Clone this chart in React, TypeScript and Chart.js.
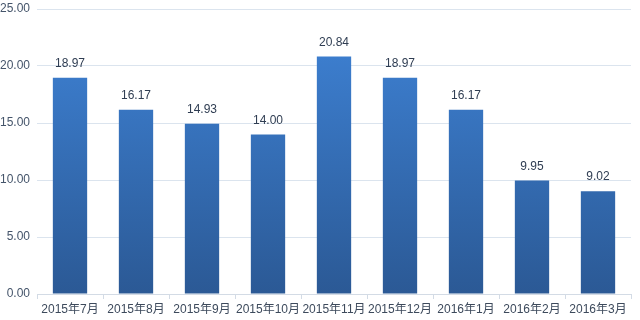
import React, { useEffect, useRef } from "react";
import { Chart, registerables } from "chart.js";

Chart.register(...registerables);

const categories = ["2015年7月", "2015年8月", "2015年9月", "2015年10月", "2015年11月", "2015年12月", "2016年1月", "2016年2月", "2016年3月"];
const values = [18.97, 16.17, 14.93, 14.0, 20.84, 18.97, 16.17, 9.95, 9.02];
const yMin = 0;
const yMax = 25;
const yStep = 5;

const FONT = "'Liberation Sans', 'Noto Sans CJK SC', sans-serif";

const valueLabels = {
  id: "valueLabels",
  afterDatasetsDraw(chart: any) {
    const ctx = chart.ctx;
    const meta = chart.getDatasetMeta(0);
    ctx.save();
    ctx.font = `12px ${FONT}`;
    ctx.fillStyle = "#2f3d52";
    ctx.textAlign = "center";
    ctx.textBaseline = "middle";
    meta.data.forEach((bar: any, i: number) => {
      ctx.fillText(values[i].toFixed(2), bar.x, bar.y - 14);
    });
    ctx.restore();
  },
};

export default function App() {
  const ref = useRef<HTMLCanvasElement>(null);
  useEffect(() => {
    document.body.style.margin = "0";
    const canvas = ref.current!;
    const chart = new Chart(canvas, {
      type: "bar",
      data: {
        labels: categories,
        datasets: [
          {
            data: values,
            backgroundColor: (c: any) => {
              const area = c.chart.chartArea;
              if (!area) return "#3570bb";
              const g = c.chart.ctx.createLinearGradient(0, area.top, 0, area.bottom);
              g.addColorStop(0, "#3f84d8");
              g.addColorStop(1, "#2b5995");
              return g;
            },
            borderWidth: 0,
            barPercentage: 0.52,
            categoryPercentage: 1,
          },
        ],
      },
      options: {
        responsive: false,
        animation: false,
        devicePixelRatio: 1,
        layout: { padding: { top: 9, right: 9, left: 0, bottom: 0 } },
        plugins: { legend: { display: false }, tooltip: { enabled: false } },
        scales: {
          x: {
            grid: {
              display: true,
              drawOnChartArea: false,
              drawTicks: true,
              tickLength: 5,
              color: "#d3dbe5",
              offset: true,
            },
            border: { display: true, color: "#d3dbe5" },
            ticks: {
              color: "#3d4a5c",
              font: { family: FONT, size: 12 },
              maxRotation: 0,
              autoSkip: false,
              padding: 3,
            },
            afterFit: (s: any) => {
              s.height = 26;
              s.paddingLeft = 0;
              s.paddingRight = 0;
            },
          },
          y: {
            min: yMin,
            max: yMax,
            ticks: {
              stepSize: yStep,
              color: "#44546a",
              font: { family: FONT, size: 12 },
              padding: 7,
              callback: (v: any) => Number(v).toFixed(2),
            },
            grid: { color: "#dbe4ee", drawTicks: false },
            border: { display: false },
            afterFit: (s: any) => {
              s.width = 37;
              s.paddingTop = 0;
              s.paddingBottom = 0;
            },
          },
        },
      },
      plugins: [valueLabels],
    });
    return () => chart.destroy();
  }, []);
  return (
    <div style={{ width: 640, height: 320, background: "#fff" }}>
      <canvas ref={ref} width={640} height={320} />
    </div>
  );
}
